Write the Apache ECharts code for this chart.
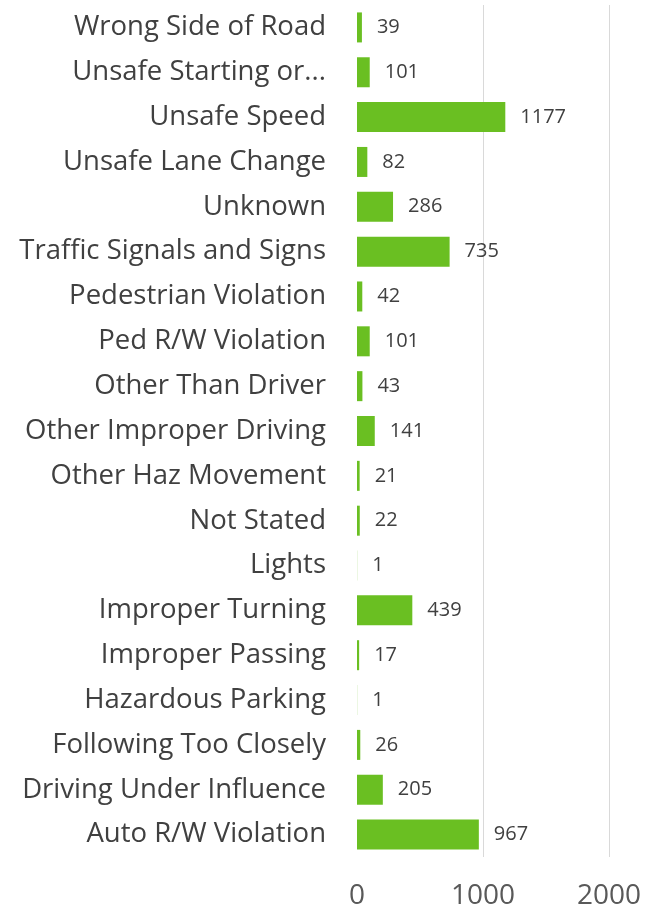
<!DOCTYPE html>
<html>
<head>
<meta charset="utf-8">
<style>
  html, body { margin: 0; padding: 0; background: #ffffff; }
  #chart { width: 650px; height: 912px; }
</style>
<script src="https://cdn.jsdelivr.net/npm/echarts@6/dist/echarts.min.js"></script>
</head>
<body>
<div id="chart"></div>
<script>
// Collision causes, listed bottom to top as drawn on the category axis
const categories = [
  'Auto R/W Violation',
  'Driving Under Influence',
  'Following Too Closely',
  'Hazardous Parking',
  'Improper Passing',
  'Improper Turning',
  'Lights',
  'Not Stated',
  'Other Haz Movement',
  'Other Improper Driving',
  'Other Than Driver',
  'Ped R/W Violation',
  'Pedestrian Violation',
  'Traffic Signals and Signs',
  'Unknown',
  'Unsafe Lane Change',
  'Unsafe Speed',
  'Unsafe Starting or...',
  'Wrong Side of Road'
];

const counts = [967, 205, 26, 1, 17, 439, 1, 22, 21, 141, 43, 101, 42, 735, 286, 82, 1177, 101, 39];

const xTicks = [0, 1000, 2000];

const chart = echarts.init(document.getElementById('chart'), null, { renderer: 'canvas' });

const fontFamily = '"Open Sans", "Noto Sans", sans-serif';

chart.setOption({
  animation: false,
  backgroundColor: '#ffffff',
  grid: {
    left: 357,
    right: 41,
    top: 5,
    bottom: 55,
    containLabel: false
  },
  xAxis: {
    type: 'value',
    min: xTicks[0],
    max: xTicks[xTicks.length - 1],
    interval: xTicks[1] - xTicks[0],
    axisLine: { show: false },
    axisTick: { show: false },
    axisLabel: {
      color: '#595959',
      fontSize: 28,
      fontFamily: fontFamily,
      margin: 25,
      formatter: function (v) { return String(v); }
    },
    splitLine: {
      show: true,
      showMinLine: false,
      lineStyle: { color: '#d9d9d9', width: 1 }
    }
  },
  yAxis: {
    type: 'category',
    data: categories,
    axisLine: { show: false },
    axisTick: { show: false },
    axisLabel: {
      color: '#404040',
      fontSize: 27.5,
      fontFamily: fontFamily,
      margin: 31
    },
    splitLine: { show: false }
  },
  series: [{
    type: 'bar',
    data: counts,
    barWidth: 30,
    itemStyle: { color: '#6abf22' },
    label: {
      show: true,
      position: 'right',
      distance: 15,
      color: '#404040',
      fontSize: 20,
      fontFamily: fontFamily
    }
  }]
});
</script>
</body>
</html>
